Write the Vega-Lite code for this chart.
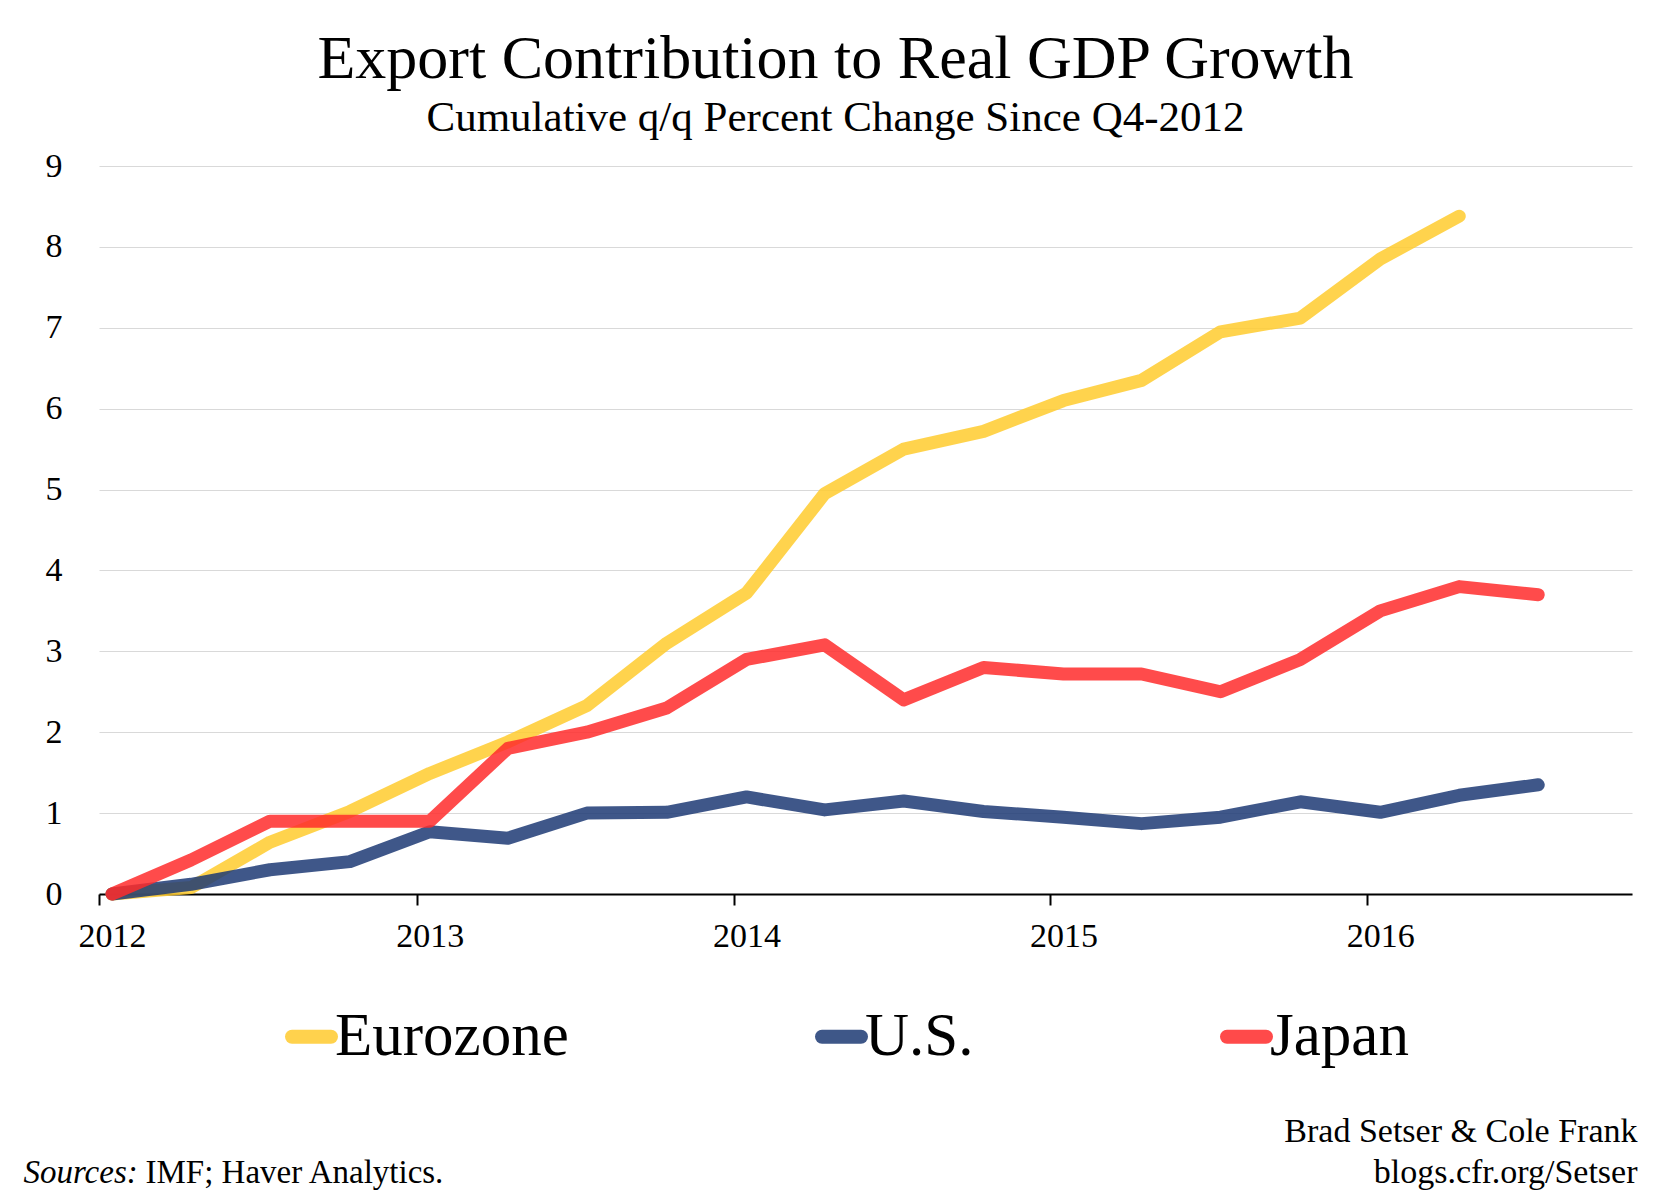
{
  "$schema": "https://vega.github.io/schema/vega-lite/v6.json",
  "width": 1533,
  "height": 728,
  "autosize": {"type": "none"},
  "padding": {"left": 99, "top": 166, "right": 39, "bottom": 309},
  "background": "white",
  "config": {
    "view": {"stroke": null},
    "font": "Liberation Serif"
  },
  "title": {
    "text": "Export Contribution to Real GDP Growth",
    "subtitle": "Cumulative q/q Percent Change Since Q4-2012",
    "font": "Liberation Serif",
    "fontSize": 62,
    "fontWeight": "normal",
    "color": "black",
    "subtitleFont": "Liberation Serif",
    "subtitleFontSize": 43,
    "subtitleColor": "black",
    "subtitlePadding": 6,
    "anchor": "middle",
    "dx": -30,
    "offset": 8
  },
  "data": {
    "values": [
      {"date": "2012-01-16", "series": "Eurozone", "value": 0},
      {"date": "2012-04-16", "series": "Eurozone", "value": 0.08},
      {"date": "2012-07-16", "series": "Eurozone", "value": 0.64},
      {"date": "2012-10-16", "series": "Eurozone", "value": 1.02},
      {"date": "2013-01-16", "series": "Eurozone", "value": 1.49},
      {"date": "2013-04-16", "series": "Eurozone", "value": 1.88},
      {"date": "2013-07-16", "series": "Eurozone", "value": 2.33},
      {"date": "2013-10-16", "series": "Eurozone", "value": 3.1},
      {"date": "2014-01-16", "series": "Eurozone", "value": 3.72},
      {"date": "2014-04-16", "series": "Eurozone", "value": 4.95},
      {"date": "2014-07-16", "series": "Eurozone", "value": 5.5},
      {"date": "2014-10-16", "series": "Eurozone", "value": 5.72},
      {"date": "2015-01-16", "series": "Eurozone", "value": 6.1},
      {"date": "2015-04-16", "series": "Eurozone", "value": 6.35},
      {"date": "2015-07-16", "series": "Eurozone", "value": 6.95},
      {"date": "2015-10-16", "series": "Eurozone", "value": 7.12},
      {"date": "2016-01-16", "series": "Eurozone", "value": 7.85},
      {"date": "2016-04-16", "series": "Eurozone", "value": 8.38},
      {"date": "2012-01-16", "series": "U.S.", "value": 0},
      {"date": "2012-04-16", "series": "U.S.", "value": 0.12},
      {"date": "2012-07-16", "series": "U.S.", "value": 0.3},
      {"date": "2012-10-16", "series": "U.S.", "value": 0.4},
      {"date": "2013-01-16", "series": "U.S.", "value": 0.77},
      {"date": "2013-04-16", "series": "U.S.", "value": 0.69},
      {"date": "2013-07-16", "series": "U.S.", "value": 1.0},
      {"date": "2013-10-16", "series": "U.S.", "value": 1.01},
      {"date": "2014-01-16", "series": "U.S.", "value": 1.2},
      {"date": "2014-04-16", "series": "U.S.", "value": 1.04},
      {"date": "2014-07-16", "series": "U.S.", "value": 1.15},
      {"date": "2014-10-16", "series": "U.S.", "value": 1.02},
      {"date": "2015-01-16", "series": "U.S.", "value": 0.95},
      {"date": "2015-04-16", "series": "U.S.", "value": 0.87},
      {"date": "2015-07-16", "series": "U.S.", "value": 0.95},
      {"date": "2015-10-16", "series": "U.S.", "value": 1.14},
      {"date": "2016-01-16", "series": "U.S.", "value": 1.01},
      {"date": "2016-04-16", "series": "U.S.", "value": 1.22},
      {"date": "2016-07-16", "series": "U.S.", "value": 1.35},
      {"date": "2012-01-16", "series": "Japan", "value": 0},
      {"date": "2012-04-16", "series": "Japan", "value": 0.42},
      {"date": "2012-07-16", "series": "Japan", "value": 0.9},
      {"date": "2012-10-16", "series": "Japan", "value": 0.9},
      {"date": "2013-01-16", "series": "Japan", "value": 0.9},
      {"date": "2013-04-16", "series": "Japan", "value": 1.8},
      {"date": "2013-07-16", "series": "Japan", "value": 2.0},
      {"date": "2013-10-16", "series": "Japan", "value": 2.3},
      {"date": "2014-01-16", "series": "Japan", "value": 2.9},
      {"date": "2014-04-16", "series": "Japan", "value": 3.08},
      {"date": "2014-07-16", "series": "Japan", "value": 2.4},
      {"date": "2014-10-16", "series": "Japan", "value": 2.8},
      {"date": "2015-01-16", "series": "Japan", "value": 2.72},
      {"date": "2015-04-16", "series": "Japan", "value": 2.72},
      {"date": "2015-07-16", "series": "Japan", "value": 2.5},
      {"date": "2015-10-16", "series": "Japan", "value": 2.9},
      {"date": "2016-01-16", "series": "Japan", "value": 3.5},
      {"date": "2016-04-16", "series": "Japan", "value": 3.8},
      {"date": "2016-07-16", "series": "Japan", "value": 3.7}
    ]
  },
  "resolve": {"axis": {"x": "independent", "y": "independent"}},
  "layer": [
    {
      "transform": [{"filter": "datum.series !== 'Japan'"}],
      "mark": {"type": "line", "strokeWidth": 13, "strokeCap": "round", "strokeJoin": "round", "opacity": 0.85},
      "encoding": {
        "x": {
          "field": "date",
          "type": "temporal",
          "scale": {"type": "utc", "domain": [{"year": 2012, "month": 1, "date": 1, "utc": true}, {"year": 2016, "month": 11, "date": 1, "utc": true}]},
          "axis": {
            "orient": "bottom",
            "values": [
              {"year": 2012, "month": 1, "date": 1, "utc": true},
              {"year": 2013, "month": 1, "date": 1, "utc": true},
              {"year": 2014, "month": 1, "date": 1, "utc": true},
              {"year": 2015, "month": 1, "date": 1, "utc": true},
              {"year": 2016, "month": 1, "date": 1, "utc": true}
            ],
            "format": "%Y",
            "grid": false,
            "domain": true,
            "domainColor": "black",
            "domainWidth": 2,
            "ticks": true,
            "tickColor": "black",
            "tickWidth": 2,
            "tickSize": 11,
            "labelFont": "Liberation Serif",
            "labelFontSize": 34,
            "labelColor": "black",
            "labelPadding": 14,
            "labelOffset": 13,
            "labelFlush": false,
            "title": "Sources:",
            "titleFont": "Liberation Serif",
            "titleFontStyle": "italic",
            "titleFontWeight": "normal",
            "titleFontSize": 33,
            "titleColor": "black",
            "titleAlign": "left",
            "titleAnchor": "start",
            "titleBaseline": "alphabetic",
            "titleX": -76,
            "titleY": 288,
            "encode": {"ticks": {"update": {"y": {"value": -11}, "y2": {"value": 11}}}}
          }
        },
        "y": {
          "field": "value",
          "type": "quantitative",
          "scale": {"domain": [0, 9], "nice": false},
          "axis": {
            "orient": "left",
            "values": [0, 1, 2, 3, 4, 5, 6, 7, 8, 9],
            "grid": true,
            "gridColor": "#d9d9d9",
            "gridWidth": 1,
            "domain": false,
            "ticks": false,
            "labelFont": "Liberation Serif",
            "labelFontSize": 34,
            "labelColor": "black",
            "labelPadding": 37,
            "title": "IMF; Haver Analytics.",
            "titleFont": "Liberation Serif",
            "titleFontWeight": "normal",
            "titleFontSize": 33,
            "titleColor": "black",
            "titleAngle": 0,
            "titleAlign": "left",
            "titleAnchor": "start",
            "titleBaseline": "alphabetic",
            "titleX": 46,
            "titleY": 1016
          }
        },
        "color": {
          "field": "series",
          "type": "nominal",
          "scale": {"domain": ["Eurozone", "U.S.", "Japan"], "range": ["#FFCB2E", "#1D3A74", "#FF2B2B"]},
          "legend": {
            "orient": "none",
            "legendX": 182,
            "legendY": 840,
            "direction": "horizontal",
            "title": null,
            "padding": 0,
            "symbolType": "stroke",
            "symbolStrokeWidth": 14,
            "symbolSize": 1521,
            "symbolOpacity": 0.85,
            "labelFont": "Liberation Serif",
            "labelFontSize": 61,
            "labelColor": "black",
            "labelOffset": -7,
            "labelLimit": 600,
            "columnPadding": 225,
            "encode": {"symbols": {"update": {"strokeCap": {"value": "round"}}}}
          }
        }
      }
    },
    {
      "transform": [{"filter": "datum.series === 'Japan'"}],
      "mark": {"type": "line", "strokeWidth": 13, "strokeCap": "round", "strokeJoin": "round", "opacity": 0.85},
      "encoding": {
        "x": {"field": "date", "type": "temporal", "axis": null},
        "y": {
          "field": "value",
          "type": "quantitative",
          "axis": {
            "orient": "right",
            "grid": false,
            "domain": false,
            "ticks": false,
            "labels": false,
            "title": ["Brad Setser & Cole Frank", "blogs.cfr.org/Setser"],
            "titleFont": "Liberation Serif",
            "titleFontWeight": "normal",
            "titleFontSize": 34,
            "titleLineHeight": 41,
            "titleColor": "black",
            "titleAngle": 0,
            "titleAlign": "right",
            "titleAnchor": "end",
            "titleBaseline": "alphabetic",
            "titleX": 5,
            "titleY": 975
          }
        },
        "color": {"field": "series", "type": "nominal"}
      }
    }
  ]
}
